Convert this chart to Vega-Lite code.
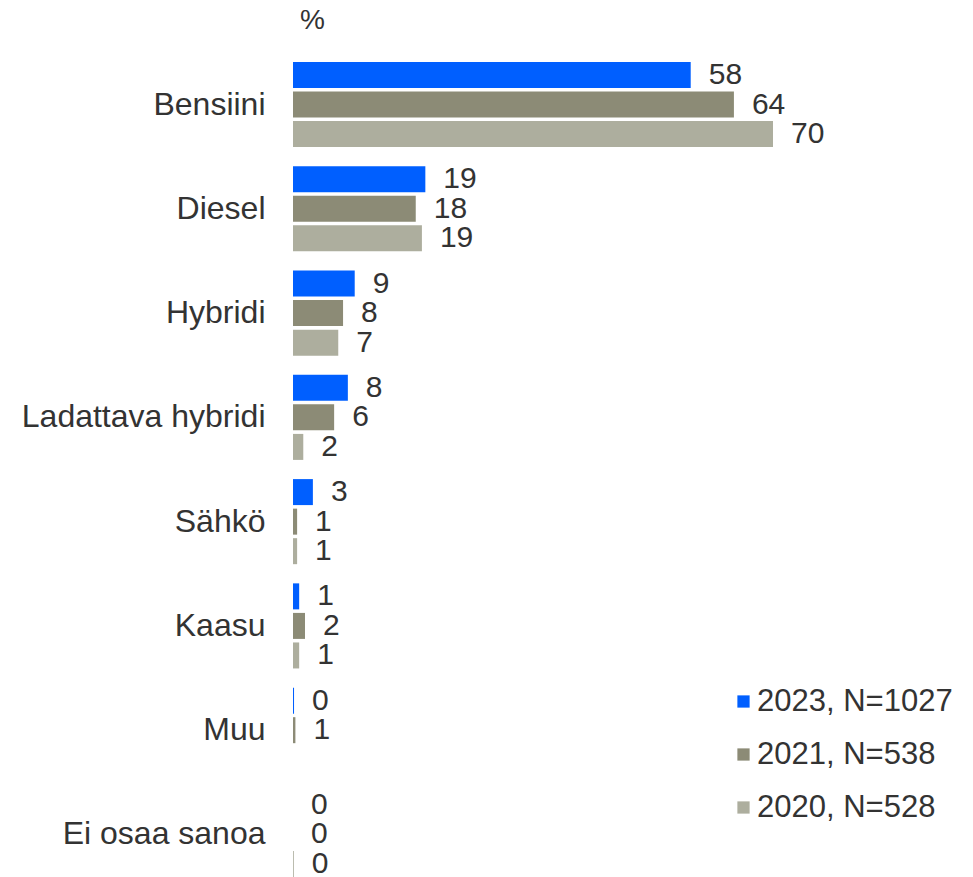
{
  "$schema": "https://vega.github.io/schema/vega-lite/v6.json",
  "autosize": {"type": "none"},
  "padding": {"left": 293, "top": 62, "right": 200, "bottom": 0},
  "width": 480,
  "height": 815,
  "title": {"text": "%", "anchor": "start", "frame": "group", "dx": 7, "offset": 25, "fontSize": 28, "fontWeight": "normal", "color": "#333333", "font": "Liberation Sans"},
  "config": {
    "font": "Liberation Sans",
    "view": {"stroke": null},
    "text": {"font": "Liberation Sans"}
  },
  "data": {
    "values": [
      {"cat": "Bensiini", "series": "2023, N=1027", "value": 58.0, "label": "58"},
      {"cat": "Bensiini", "series": "2021, N=538", "value": 64.3, "label": "64"},
      {"cat": "Bensiini", "series": "2020, N=528", "value": 70.0, "label": "70"},
      {"cat": "Diesel", "series": "2023, N=1027", "value": 19.3, "label": "19"},
      {"cat": "Diesel", "series": "2021, N=538", "value": 17.9, "label": "18"},
      {"cat": "Diesel", "series": "2020, N=528", "value": 18.8, "label": "19"},
      {"cat": "Hybridi", "series": "2023, N=1027", "value": 9.0, "label": "9"},
      {"cat": "Hybridi", "series": "2021, N=538", "value": 7.3, "label": "8"},
      {"cat": "Hybridi", "series": "2020, N=528", "value": 6.6, "label": "7"},
      {"cat": "Ladattava hybridi", "series": "2023, N=1027", "value": 8.0, "label": "8"},
      {"cat": "Ladattava hybridi", "series": "2021, N=538", "value": 6.0, "label": "6"},
      {"cat": "Ladattava hybridi", "series": "2020, N=528", "value": 1.5, "label": "2"},
      {"cat": "Sähkö", "series": "2023, N=1027", "value": 2.9, "label": "3"},
      {"cat": "Sähkö", "series": "2021, N=538", "value": 0.6, "label": "1"},
      {"cat": "Sähkö", "series": "2020, N=528", "value": 0.6, "label": "1"},
      {"cat": "Kaasu", "series": "2023, N=1027", "value": 0.9, "label": "1"},
      {"cat": "Kaasu", "series": "2021, N=538", "value": 1.75, "label": "2"},
      {"cat": "Kaasu", "series": "2020, N=528", "value": 0.9, "label": "1"},
      {"cat": "Muu", "series": "2023, N=1027", "value": 0.15, "label": "0"},
      {"cat": "Muu", "series": "2021, N=538", "value": 0.35, "label": "1"},
      {"cat": "Ei osaa sanoa", "series": "2023, N=1027", "value": 0, "label": "0"},
      {"cat": "Ei osaa sanoa", "series": "2021, N=538", "value": 0, "label": "0"},
      {"cat": "Ei osaa sanoa", "series": "2020, N=528", "value": 0.12, "label": "0"}
    ]
  },
  "encoding": {
    "y": {
      "field": "cat", "type": "nominal",
      "sort": ["Bensiini", "Diesel", "Hybridi", "Ladattava hybridi", "Sähkö", "Kaasu", "Muu", "Ei osaa sanoa"],
      "scale": {"paddingInner": 0.184, "paddingOuter": 0},
      "axis": {"title": null, "domain": false, "ticks": false, "labelPadding": 28, "labelFontSize": 32, "labelColor": "#333333", "labelFont": "Liberation Sans", "labelLimit": 0}
    },
    "yOffset": {
      "field": "series", "type": "nominal",
      "sort": ["2023, N=1027", "2021, N=538", "2020, N=528"],
      "scale": {"domain": ["2023, N=1027", "2021, N=538", "2020, N=528"], "paddingInner": 0.12, "paddingOuter": 0}
    },
    "x": {
      "field": "value", "type": "quantitative",
      "scale": {"domain": [0, 70], "nice": false, "zero": true},
      "axis": null
    }
  },
  "layer": [
    {
      "mark": {"type": "bar"},
      "encoding": {
        "color": {
          "field": "series", "type": "nominal",
          "scale": {"domain": ["2023, N=1027", "2021, N=538", "2020, N=528"], "range": ["#005FFF", "#8C8B76", "#ADAE9E"]},
          "legend": {
            "title": null, "orient": "none", "legendX": 435, "legendY": 624, "padding": 0,
            "symbolType": "square", "symbolSize": 150, "symbolStrokeWidth": 0,
            "labelFontSize": 31, "labelColor": "#333333", "labelFont": "Liberation Sans", "labelLimit": 0,
            "rowPadding": 21, "labelOffset": -2
          }
        }
      }
    },
    {
      "mark": {"type": "text", "align": "left", "baseline": "middle", "dx": 18, "fontSize": 30, "color": "#333333"},
      "encoding": {
        "text": {"field": "label"}
      }
    }
  ]
}
